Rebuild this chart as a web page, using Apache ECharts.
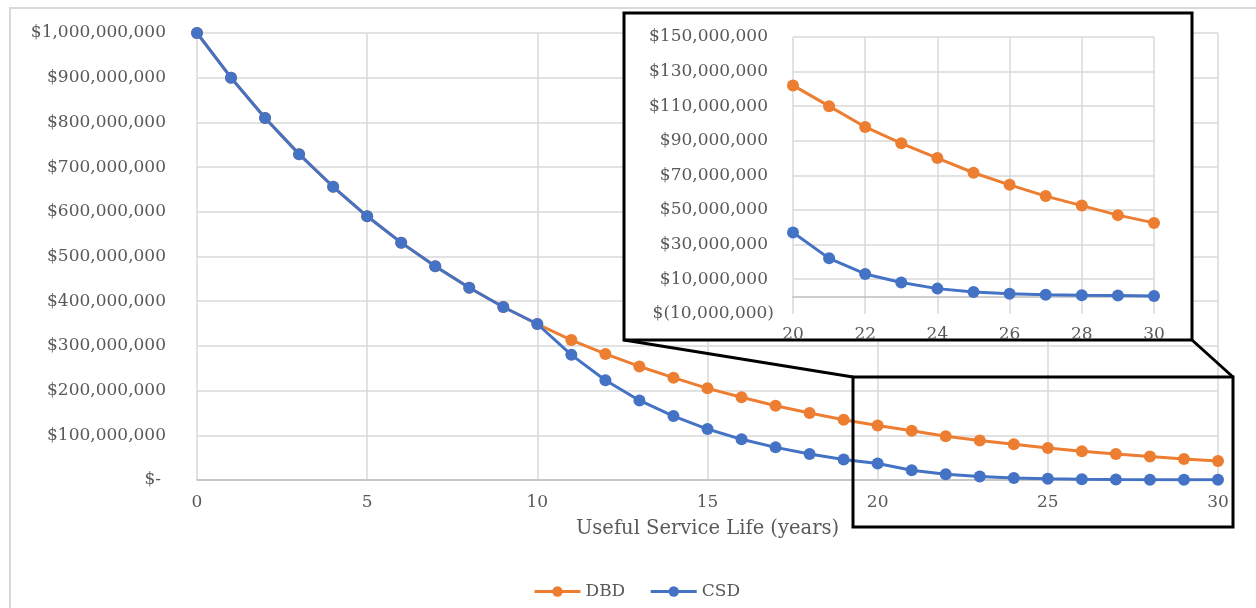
<!DOCTYPE html>
<html>
<head>
<meta charset="utf-8">
<script src="https://cdn.jsdelivr.net/npm/echarts@6/dist/echarts.min.js"></script>
<style>
html,body{margin:0;padding:0;background:#fff;}
#chart{width:1256px;height:608px;}
</style>
</head>
<body>
<div id="chart"></div>
<script>
// Values in millions of dollars
var years = [0,1,2,3,4,5,6,7,8,9,10,11,12,13,14,15,16,17,18,19,20,21,22,23,24,25,26,27,28,29,30];
var dbdMillions = [1000,900,810,729,656,590,531,478,430,387,349,313,282,254,229,205,185,166,150,135,122,110,98,88.5,80,71.5,64.5,58,52.5,47,42.5];
var csdMillions = [1000,900,810,729,656,590,531,478,430,387,349,280,223,178,143,114,91,73,58,46,37,22,13,8,4.5,2.6,1.6,1.0,0.7,0.5,0.3];
var seriesNames = ['DBD','CSD'];
var insetStartYear = 20;

var ORANGE = '#ED7D31', BLUE = '#4472C4';
var FONT = 'DejaVu Serif';
var TXT = '#595959';
var GRID = '#d9d9d9';
var FS = 17;

function commas(n){
  var s = String(Math.round(n));
  return s.replace(/\B(?=(\d{3})+(?!\d))/g, ',');
}
function money(v){
  if (v === 0) return '{z|$-}';
  if (v < 0) return '$(' + commas(-v) + ',000,000)';
  return '{p|$' + commas(v) + ',000,000}';
}
function pairs(vals, from){
  var out = [];
  for (var i = 0; i < years.length; i++) {
    if (years[i] >= from) out.push([years[i], vals[i]]);
  }
  return out;
}

var labelBase = {fontFamily: FONT, fontSize: FS, color: TXT};
var richLab = {
  p: {fontFamily: FONT, fontSize: FS, color: TXT, padding: [0, 6, 0, 0]},
  z: {fontFamily: FONT, fontSize: FS, color: TXT, padding: [0, 11, 0, 0]}
};

function lineSeries(name, vals, color, xi, yi, from, z){
  return {
    name: name, type: 'line', xAxisIndex: xi, yAxisIndex: yi,
    data: pairs(vals, from),
    symbol: 'circle', symbolSize: 12, z: z,
    lineStyle: {color: color, width: 3},
    itemStyle: {color: color},
    emphasis: {disabled: true}
  };
}

var chart = echarts.init(document.getElementById('chart'));
var option = {
  animation: false,
  backgroundColor: '#fff',
  legend: {
    data: seriesNames,
    left: 528, top: 578,
    itemWidth: 46, itemHeight: 13, itemGap: 24,
    lineStyle: {width: 3},
    textStyle: {fontFamily: FONT, fontSize: FS, color: TXT}
  },
  grid: [
    {left: 197, right: 38, top: 33, bottom: 128},
    {left: 793, right: 102, top: 37, bottom: 294.3}
  ],
  xAxis: [
    {
      gridIndex: 0, type: 'value', min: 0, max: 30, interval: 5,
      name: 'Useful Service Life (years)', nameLocation: 'middle', nameGap: 39,
      nameTextStyle: {fontFamily: FONT, fontSize: 19.5, color: TXT},
      axisLine: {show: true, lineStyle: {color: '#bfbfbf', width: 1.5}},
      axisTick: {show: false},
      axisLabel: Object.assign({margin: 14}, labelBase),
      splitLine: {show: true, lineStyle: {color: GRID, width: 1.5}}
    },
    {
      gridIndex: 1, type: 'value', min: 20, max: 30, interval: 2, z: 11,
      axisLine: {show: true, onZero: true, lineStyle: {color: '#bfbfbf', width: 1.5}},
      axisTick: {show: false},
      axisLabel: Object.assign({margin: 12}, labelBase),
      splitLine: {show: true, lineStyle: {color: GRID, width: 1.5}}
    }
  ],
  yAxis: [
    {
      gridIndex: 0, type: 'value', min: 0, max: 1000, interval: 100,
      axisLine: {show: false}, axisTick: {show: false},
      axisLabel: Object.assign({margin: 25, formatter: money, rich: richLab}, labelBase),
      splitLine: {show: true, lineStyle: {color: GRID, width: 1.5}}
    },
    {
      gridIndex: 1, type: 'value', min: -10, max: 150, interval: 20, z: 11,
      axisLine: {show: false}, axisTick: {show: false},
      axisLabel: Object.assign({margin: 19, formatter: money, rich: richLab}, labelBase),
      splitLine: {show: true, lineStyle: {
        color: ['rgba(0,0,0,0)', GRID, GRID, GRID, GRID, GRID, GRID, GRID, GRID], width: 1.5}}
    }
  ],
  series: [
    lineSeries(seriesNames[0], dbdMillions, ORANGE, 0, 0, 0, 2),
    lineSeries(seriesNames[1], csdMillions, BLUE, 0, 0, 0, 3),
    lineSeries(seriesNames[0], dbdMillions, ORANGE, 1, 1, insetStartYear, 12),
    lineSeries(seriesNames[1], csdMillions, BLUE, 1, 1, insetStartYear, 13)
  ],
  graphic: [
    {type: 'rect', z: 1, silent: true,
     shape: {x: 10, y: 8, width: 1270, height: 620},
     style: {fill: 'none', stroke: '#d9d9d9', lineWidth: 2}},
    {type: 'rect', z: 10, silent: true,
     shape: {x: 624, y: 13, width: 568, height: 327},
     style: {fill: '#fff', stroke: '#000', lineWidth: 3}},
    {type: 'rect', z: 20, silent: true,
     shape: {x: 853, y: 377, width: 380, height: 150},
     style: {fill: 'none', stroke: '#000', lineWidth: 3}},
    {type: 'line', z: 20, silent: true,
     shape: {x1: 624, y1: 340, x2: 853, y2: 377},
     style: {stroke: '#000', lineWidth: 3}},
    {type: 'line', z: 20, silent: true,
     shape: {x1: 1192, y1: 340, x2: 1233, y2: 377},
     style: {stroke: '#000', lineWidth: 3}}
  ]
};
chart.setOption(option);
</script>
</body>
</html>
